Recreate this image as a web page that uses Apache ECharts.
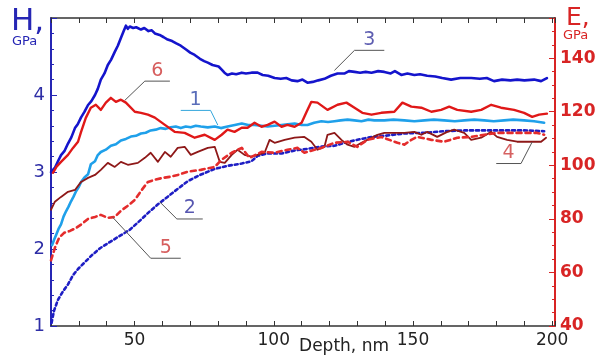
<!DOCTYPE html>
<html>
<head>
<meta charset="utf-8">
<script src="https://cdn.jsdelivr.net/npm/echarts@6/dist/echarts.min.js"></script>
<style>
html, body { margin: 0; padding: 0; background: #fff; }
#chart { width: 602px; height: 356px; }
</style>
</head>
<body>
<div id="chart"></div>
<script>
// [depth nm, H GPa] for curves 1-3, [depth nm, E GPa] for curves 4-6
const curve1 = [[20.4,2.05],[21.1,2.12],[21.8,2.18],[22.7,2.26],[23.6,2.32],[24.5,2.42],[25.4,2.49],[26.3,2.55],[27.2,2.62],[28.1,2.68],[29,2.75],[29.9,2.8],[30.8,2.87],[32,2.93],[33.3,2.97],[34.3,3.1],[35.8,3.14],[36.8,3.22],[37.9,3.26],[39.7,3.29],[41.5,3.34],[43.3,3.36],[45.1,3.41],[46.9,3.43],[48.7,3.46],[50.5,3.47],[52.3,3.5],[54,3.51],[55.8,3.54],[57.6,3.55],[59.4,3.57],[61.2,3.56],[63,3.58],[64.8,3.59],[66.6,3.57],[68.4,3.59],[70.2,3.58],[72,3.6],[73.8,3.59],[76.3,3.58],[78.8,3.59],[81,3.57],[83.4,3.59],[86,3.61],[88.5,3.63],[90.8,3.61],[93.1,3.61],[95.5,3.6],[97.8,3.59],[100.3,3.6],[102.8,3.61],[105,3.62],[107.5,3.63],[110,3.61],[112.1,3.61],[114.5,3.64],[117.1,3.66],[119.5,3.65],[121.8,3.66],[124,3.67],[126.5,3.68],[129,3.67],[131.5,3.66],[134,3.68],[136.1,3.67],[139.7,3.67],[143,3.68],[146.9,3.67],[150.5,3.66],[154.1,3.67],[157.5,3.68],[161.2,3.67],[165,3.66],[168.4,3.67],[172,3.68],[175.6,3.67],[179,3.66],[182.7,3.67],[186,3.68],[189.9,3.67],[193.5,3.66],[197.1,3.64]];

const curve2 = [[20.2,1.04],[21.1,1.2],[22.5,1.34],[24.3,1.45],[26.1,1.54],[27.9,1.66],[29.7,1.74],[32.2,1.83],[34.7,1.92],[37.6,2.01],[41.1,2.09],[44.7,2.17],[48.3,2.25],[52.3,2.38],[55.5,2.49],[58.4,2.58],[61.6,2.67],[64.4,2.75],[69.1,2.88],[73.4,2.96],[78.8,3.04],[83.4,3.08],[88.5,3.11],[92,3.14],[94.2,3.21],[97.8,3.24],[102.8,3.24],[107.5,3.28],[112.1,3.3],[117.1,3.33],[121.8,3.34],[126.5,3.39],[131.5,3.43],[136.1,3.46],[139.7,3.47],[146.9,3.5],[154.1,3.51],[161.2,3.53],[168.4,3.54],[175.6,3.54],[182.7,3.54],[189.9,3.54],[197.1,3.53]];

const curve3 = [[20,3],[21.5,3.06],[22.5,3.14],[23.6,3.22],[24.8,3.27],[26.1,3.37],[27.3,3.45],[28.6,3.57],[29.6,3.62],[30.8,3.71],[32,3.78],[33.3,3.87],[34.5,3.92],[35.8,4],[36.8,4.08],[37.9,4.2],[39.2,4.28],[40.4,4.39],[41.6,4.46],[42.9,4.56],[44,4.64],[45.1,4.74],[46,4.82],[46.9,4.9],[47.6,4.86],[48.3,4.89],[49.5,4.87],[50.6,4.88],[52.3,4.85],[53.5,4.87],[55,4.83],[56.2,4.84],[57.3,4.8],[59,4.78],[60.5,4.75],[61.9,4.72],[63.5,4.7],[65,4.67],[66.6,4.64],[68.5,4.59],[70,4.55],[71.6,4.52],[73.5,4.47],[75,4.44],[76.3,4.42],[78,4.39],[79.1,4.38],[80.2,4.37],[81.3,4.33],[82.3,4.29],[83.4,4.26],[85,4.28],[86.5,4.27],[88.5,4.29],[90,4.28],[92,4.29],[94.2,4.29],[96,4.26],[98,4.25],[100.3,4.22],[102.5,4.21],[104.5,4.22],[106.4,4.19],[108.5,4.18],[110.3,4.2],[112.1,4.16],[114,4.17],[116,4.19],[118.2,4.21],[120.5,4.25],[122.9,4.28],[125.5,4.28],[127,4.31],[129,4.3],[131,4.29],[133,4.3],[135.1,4.29],[137.5,4.31],[139.7,4.3],[142,4.28],[143.5,4.31],[145.8,4.26],[148,4.28],[150.5,4.26],[152.5,4.27],[155.1,4.25],[158,4.24],[160.5,4.22],[163.7,4.2],[167,4.22],[170.9,4.22],[174,4.21],[176.5,4.22],[179.1,4.18],[182,4.2],[185,4.19],[187.4,4.2],[190,4.19],[193.5,4.2],[196,4.18],[198.1,4.22]];

const curve4 = [[20,83.4],[21.4,86.4],[23.6,88.2],[26.1,90.1],[28.6,90.8],[30.8,93.8],[33.3,95.3],[35.8,96.4],[37.9,98.3],[40.4,100.9],[42.9,99.4],[45.1,101.3],[47.6,100.2],[51.2,100.9],[53.7,102.8],[55.8,104.7],[58.4,101.3],[60.9,105],[63,103.2],[65.5,106.5],[68,106.9],[70.2,103.9],[72.7,105],[76.3,106.5],[78.8,106.9],[80.6,101.3],[82.4,100.9],[84.9,103.9],[87,105.8],[89.5,103.9],[92,103.2],[94.2,103.9],[96.7,104.7],[98.5,109.5],[100.3,108.4],[103.9,109.5],[107.5,110.3],[111,110.6],[113.5,108.8],[115.7,105.8],[118.2,106.9],[119.3,111.4],[121.8,112.1],[124.3,109.5],[126.5,107.7],[129,106.9],[131.5,108.4],[133.6,109.5],[137.2,111.4],[139.7,112.1],[143.3,112.1],[146.9,112.1],[150.5,112.5],[153,111.4],[155.1,112.5],[158.7,110.6],[162.3,112.5],[164.8,113.3],[168.4,112.1],[170.9,109.5],[174.5,110.3],[178.1,112.5],[180.2,110.6],[183.8,109.5],[187.4,108.8],[192.4,108.8],[196,108.8],[197.8,110.3]];

const curve5 = [[20,64.5],[21.4,69.2],[22.9,72.9],[24.7,74.8],[26.8,75.5],[29,76.6],[31.1,78.1],[33.3,80],[35.8,80.7],[37.9,81.5],[40.4,80.4],[42.9,80.7],[45.1,83],[47.6,84.9],[50.1,87.1],[52.6,90.8],[54.8,93.8],[57.3,94.6],[60.1,95.3],[62.7,95.7],[65.5,96.4],[69.1,97.6],[73.8,98.3],[78.8,99.4],[81.3,102.1],[84.9,104.7],[88.5,106.5],[91.3,102.8],[95.6,105],[100.3,104.7],[104.9,105.8],[108.5,106.5],[111,104.7],[114.6,105.8],[117.1,106.5],[121.8,108.4],[126.5,108.8],[130,106.9],[133.6,109.5],[138.6,110.6],[144.4,108.4],[146.9,107.7],[149.4,109.5],[151.5,110.6],[156.6,109.5],[161.2,108.8],[165.9,110.3],[170.9,110.6],[175.6,111.4],[180.2,112.1],[185.2,112.1],[189.9,112.1],[194.6,112.1],[197.1,111.4]];

const curve6 = [[20.7,97.2],[22,99.5],[23.6,101.3],[26.1,103.9],[27.9,106.5],[29.7,108.8],[30.8,112.5],[32.5,117.7],[34.3,121.5],[36.1,122.6],[37.9,120.7],[39.7,123.4],[41.5,125.2],[43.3,123.7],[45.1,124.5],[46.9,123.4],[50.1,120],[52.3,119.6],[54.8,118.9],[57.3,117.8],[60.9,115.1],[64.4,112.5],[68,112.1],[71.6,110.3],[75.2,111.4],[78.8,109.5],[81.3,111.4],[83.4,113.3],[85.9,112.5],[88.5,114],[90.6,114],[93.1,115.9],[95.6,114.4],[97.8,115.1],[100.3,116.3],[102.8,114.4],[104.9,115.1],[107.5,114.4],[110,115.9],[111.8,120],[113.5,123.7],[115.7,123.4],[119.3,120.7],[122.9,122.6],[126.1,123.4],[129,121.5],[131.8,119.6],[135.1,118.9],[138.6,119.6],[143.3,120],[146.2,123.4],[149.4,121.9],[153,121.5],[156.6,120],[160.1,120.7],[163,121.9],[165.9,120.7],[170.9,120],[174.5,120.7],[178.1,122.6],[181.6,121.5],[186.3,120.7],[189.9,119.6],[192.8,118.1],[195.3,118.9],[198.1,119.3]];

// leader lines for the curve numbers, in [depth, H] coordinates
const leaderNames = ['1', '2', '3', '4', '5', '6'];
const leaders = [
  [[79.9,3.61],[77.3,3.8],[66.6,3.8]],
  [[59.1,2.61],[65.2,2.39],[74.5,2.39]],
  [[121.8,4.32],[129,4.58],[139.7,4.58]],
  [[192.8,3.39],[188.8,3.11],[179.9,3.11]],
  [[42.2,2.41],[55.8,1.88],[66.6,1.88]],
  [[46.5,3.93],[53.7,4.18],[62.7,4.18]]
];
const leaderTextColors = ['#3048a8', '#2c2c9c', '#34349c', '#cc3a3a', '#cc3434', '#cc3434'];
const leaderLineColors = ['#33a6dc', '#555', '#555', '#555', '#555', '#555'];

const font = 'DejaVu Sans';
const blue = '#2626b4';
const red = '#d82424';

const chart = echarts.init(document.getElementById('chart'));

const curveSeries = [
  { name: '1', data: curve1, yAxisIndex: 0, color: '#1fa0ea', width: 2.6, type: 'solid' },
  { name: '2', data: curve2, yAxisIndex: 0, color: '#1e1ec4', width: 2.6, type: [3, 3] },
  { name: '3', data: curve3, yAxisIndex: 0, color: '#1414cc', width: 2.6, type: 'solid' },
  { name: '4', data: curve4, yAxisIndex: 1, color: '#8e1818', width: 1.8, type: 'solid' },
  { name: '5', data: curve5, yAxisIndex: 1, color: '#e42c2c', width: 2.6, type: [5, 4] },
  { name: '6', data: curve6, yAxisIndex: 1, color: '#e01818', width: 2.4, type: 'solid' }
].map(c => ({
  name: c.name,
  type: 'line',
  yAxisIndex: c.yAxisIndex,
  data: c.data,
  showSymbol: false,
  symbol: 'none',
  lineStyle: { color: c.color, width: c.width, type: c.type, cap: 'round', join: 'round' },
  z: 3
}));

const leaderSeries = leaders.map((pts, i) => ({
  type: 'line',
  data: pts,
  symbol: 'none',
  lineStyle: { color: leaderLineColors[i], width: 1 },
  z: 4
}));

const leaderLabels = {
  type: 'scatter',
  symbolSize: 0,
  data: leaders.map((pts, i) => ({
    value: [(pts[1][0] + pts[2][0]) / 2, pts[2][1]],
    name: leaderNames[i],
    label: { color: leaderTextColors[i] }
  })),
  label: {
    show: true,
    position: 'top',
    distance: 1,
    formatter: p => p.name,
    fontSize: 19,
    fontFamily: font
  },
  z: 5
};

const option = {
  animation: false,
  backgroundColor: '#fff',
  grid: { left: 51, right: 47, top: 18, bottom: 30, outerBoundsMode: 'none' },
  xAxis: [
    {
      type: 'value',
      min: 20,
      max: 201,
      interval: 10,
      axisLine: { lineStyle: { color: '#333', width: 1.5 } },
      axisTick: { inside: true, length: 5, lineStyle: { color: '#333' } },
      axisLabel: {
        formatter: v => (v % 50 === 0 ? String(v) : ''),
        color: '#222', fontSize: 17, fontFamily: font, margin: 6
      },
      splitLine: { show: false },
      name: 'Depth, nm',
      nameLocation: 'middle',
      nameGap: 12,
      nameMoveOverlap: false,
      nameTextStyle: { color: '#222', fontSize: 17, fontFamily: font, padding: [0, 0, 0, 82] }
    },
    {
      type: 'value',
      position: 'top',
      min: 20,
      max: 201,
      interval: 10,
      axisLine: { lineStyle: { color: '#333', width: 1.5 } },
      axisTick: { inside: true, length: 5, lineStyle: { color: '#333' } },
      axisLabel: { show: false },
      splitLine: { show: false }
    }
  ],
  yAxis: [
    {
      type: 'value',
      position: 'left',
      min: 1,
      max: 5,
      interval: 1,
      axisLine: { show: true, lineStyle: { color: blue, width: 2 } },
      axisTick: { show: true, inside: true, length: 6, lineStyle: { color: blue } },
      minorTick: { show: true, splitNumber: 5, length: 3, lineStyle: { color: blue } },
      axisLabel: {
        formatter: v => (v < 5 ? String(v) : ''),
        color: '#2e2ea6', fontSize: 18, fontFamily: font, margin: 6
      },
      splitLine: { show: false }
    },
    {
      type: 'value',
      position: 'right',
      min: 40,
      max: 155,
      interval: 20,
      axisLine: { show: true, lineStyle: { color: red, width: 2 } },
      axisTick: { show: true, inside: true, length: 6, lineStyle: { color: red } },
      minorTick: { show: true, splitNumber: 4, length: 3, lineStyle: { color: red } },
      axisLabel: {
        formatter: v => (v % 20 === 0 ? String(v) : ''),
        color: red, fontSize: 17, fontWeight: 'bold', fontFamily: font, margin: 5
      },
      splitLine: { show: false }
    }
  ],
  graphic: [
    { type: 'text', left: 11, top: 6, style: { text: 'H,', fill: blue, fontSize: 31, fontFamily: font } },
    { type: 'text', left: 12, top: 35, style: { text: 'GPa', fill: blue, fontSize: 13, fontFamily: font } },
    { type: 'text', left: 566, top: 6, style: { text: 'E,', fill: red, fontSize: 25, fontFamily: font } },
    { type: 'text', left: 563, top: 29, style: { text: 'GPa', fill: red, fontSize: 13, fontFamily: font } }
  ],
  series: [...curveSeries, ...leaderSeries, leaderLabels]
};

chart.setOption(option);
</script>
</body>
</html>
